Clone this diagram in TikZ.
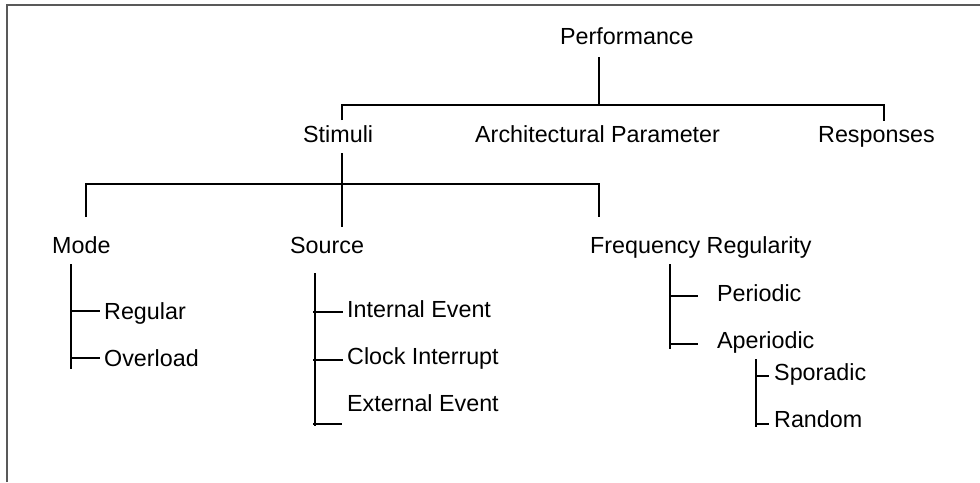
\documentclass[tikz,border=0pt]{standalone}
\usepackage{fontspec}
\setmainfont{Liberation Sans}

\begin{document}
\begin{tikzpicture}[x=1pt, y=-1pt,
		lbl/.style={anchor=base west, inner sep=0pt, font=\fontsize{23.3}{28}\selectfont},
		tree/.style={line width=1.3pt}]
				\useasboundingbox (0,0) rectangle (980,482);
				\draw[line width=1.5pt, black!65] (7,482) -- (7,5) -- (980,5);
				% labels
				\node[lbl] (perf) at (560,44) {Performance};
				\node[lbl] (stim) at (303,142) {Stimuli};
				\node[lbl] (arch) at (475,142) {Architectural Parameter};
				\node[lbl] (resp) at (818,142) {Responses};
				\node[lbl] (mode) at (52,253) {Mode};
				\node[lbl] (src) at (290,253) {Source};
				\node[lbl] (freq) at (590,253) {Frequency Regularity};
				\node[lbl] (reg) at (104,319) {Regular};
				\node[lbl] (over) at (104,366) {Overload};
				\node[lbl] (intev) at (347,317) {Internal Event};
				\node[lbl] (clock) at (347,364.5) {Clock Interrupt};
				\node[lbl] (extev) at (347,411) {External Event};
				\node[lbl] (peri) at (717,301) {Periodic};
				\node[lbl] (aper) at (717,348.5) {Aperiodic};
				\node[lbl] (spor) at (774,380) {Sporadic};
				\node[lbl] (rand) at (774,427.5) {Random};
				% junctions
				\coordinate (perfstem) at (599,57);
				\coordinate (busA) at (342,105);
				\coordinate (busB) at (884,105);
				\coordinate (stimtop) at (342,120);
				\coordinate (resptop) at (884,121);
				\coordinate (stimstem) at (342,153);
				\coordinate (srctop) at (342,227);
				\coordinate (busC) at (86,184);
				\coordinate (busD) at (599,184);
				\coordinate (modetop) at (86,217);
				\coordinate (freqtop) at (599,217);
				\coordinate (modebar) at (71,264);
				\coordinate (srcbar) at (315,273);
				\coordinate (freqbar) at (670,264);
				\coordinate (aperbar) at (756,359);
				% top level
				\draw[tree] (perfstem) -- (perfstem |- busA);
				\draw[tree] (stimtop) -- (busA) -- (busB) -- (resptop);
				% stimuli
				\draw[tree] (stimstem) -- (srctop);
				\draw[tree] (modetop) -- (busC) -- (busD) -- (freqtop);
				% mode
				\draw[tree] (modebar) -- (71,369);
				\draw[tree] (71,311) -- (100,311);
				\draw[tree] (71,358) -- (100,358);
				% source
				\draw[tree] (srcbar) -- (315,426);
				\draw[tree] (313,312) -- (343,312);
				\draw[tree] (313,360) -- (343,360);
				\draw[tree] (313,424) -- (342,424);
				% frequency
				\draw[tree] (freqbar) -- (670,349);
				\draw[tree] (670,296) -- (698,296);
				\draw[tree] (670,344) -- (698,344);
				\draw[tree] (aperbar) -- (756,427);
				\draw[tree] (756,376) -- (769,376);
				\draw[tree] (756,424) -- (769,424);
		\end{tikzpicture}
\end{document}
